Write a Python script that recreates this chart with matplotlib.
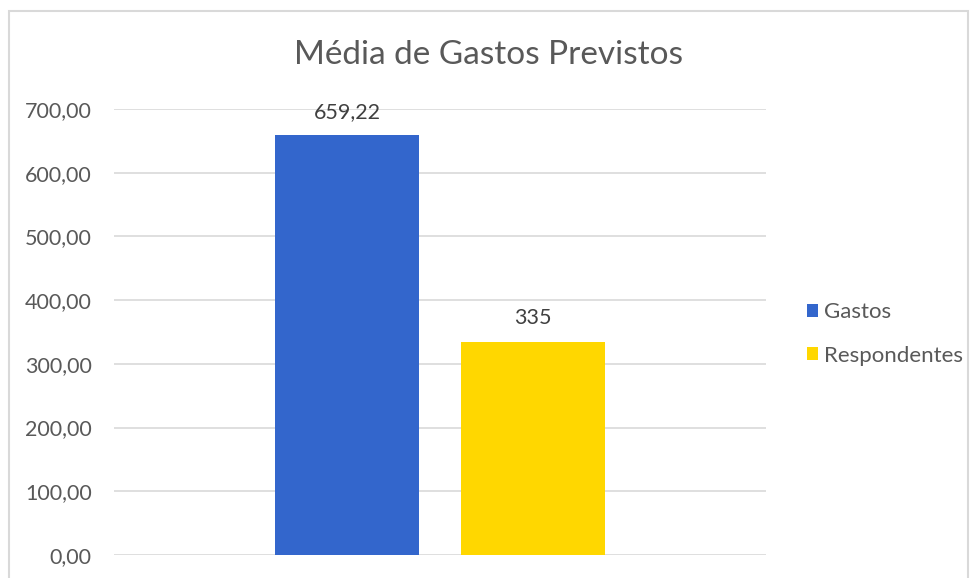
import matplotlib
matplotlib.use("Agg")
import matplotlib.pyplot as plt
from matplotlib.patches import Rectangle

title = "Média de Gastos Previstos"
series = ["Gastos", "Respondentes"]
values = [659.22, 335]
value_labels = ["659,22", "335"]
colors = ["#3366CC", "#FFD700"]
yticks = [0, 100, 200, 300, 400, 500, 600, 700]
ytick_labels = ["0,00", "100,00", "200,00", "300,00", "400,00", "500,00", "600,00", "700,00"]

plt.rcParams['font.family'] = ['Lato', 'DejaVu Sans']
txt = "#595959"

W, H = 978, 578
fig = plt.figure(figsize=(W/100, H/100), dpi=100)
fig.patches.append(Rectangle((9/W, -0.05), (968-9)/W, 1.05 - 11/H, transform=fig.transFigure,
                             fill=False, edgecolor="#D9D9D9", linewidth=1.5))

ax = fig.add_axes([114/W, (H-555)/H, (766-114)/W, (555-109)/H])
offsets = [-0.1425, 0.1425]
width = 0.222
for i, (s, v, c, off) in enumerate(zip(series, values, colors, offsets)):
    ax.bar(off, v, width=width, color=c, label=s, zorder=3)
    ax.text(off, v + 21, value_labels[i], ha="center", va="bottom", fontsize=15.5, color="#404040")

ax.set_xlim(-0.5, 0.5)
ax.set_ylim(0, 700)
ax.set_yticks(yticks)
ax.set_yticklabels(ytick_labels, fontsize=15.5, color=txt)
ax.set_xticks([])
ax.tick_params(axis="y", length=0, pad=16)
ax.grid(axis="y", color="#D9D9D9", linewidth=1.2, zorder=0)
for sp in ax.spines.values():
    sp.set_visible(False)

fig.text(0.5, 1 - 55/H, title, ha="center", va="center", fontsize=24, color=txt)

handles, labels = ax.get_legend_handles_labels()
leg = fig.legend(handles, labels, loc="center left", bbox_to_anchor=(787/W, 1 - 334/H),
                 frameon=False, fontsize=16, handlelength=0.5, handleheight=0.5,
                 handletextpad=0.25, labelspacing=1.05, labelcolor=txt)

fig.savefig("out.png", dpi=100)
